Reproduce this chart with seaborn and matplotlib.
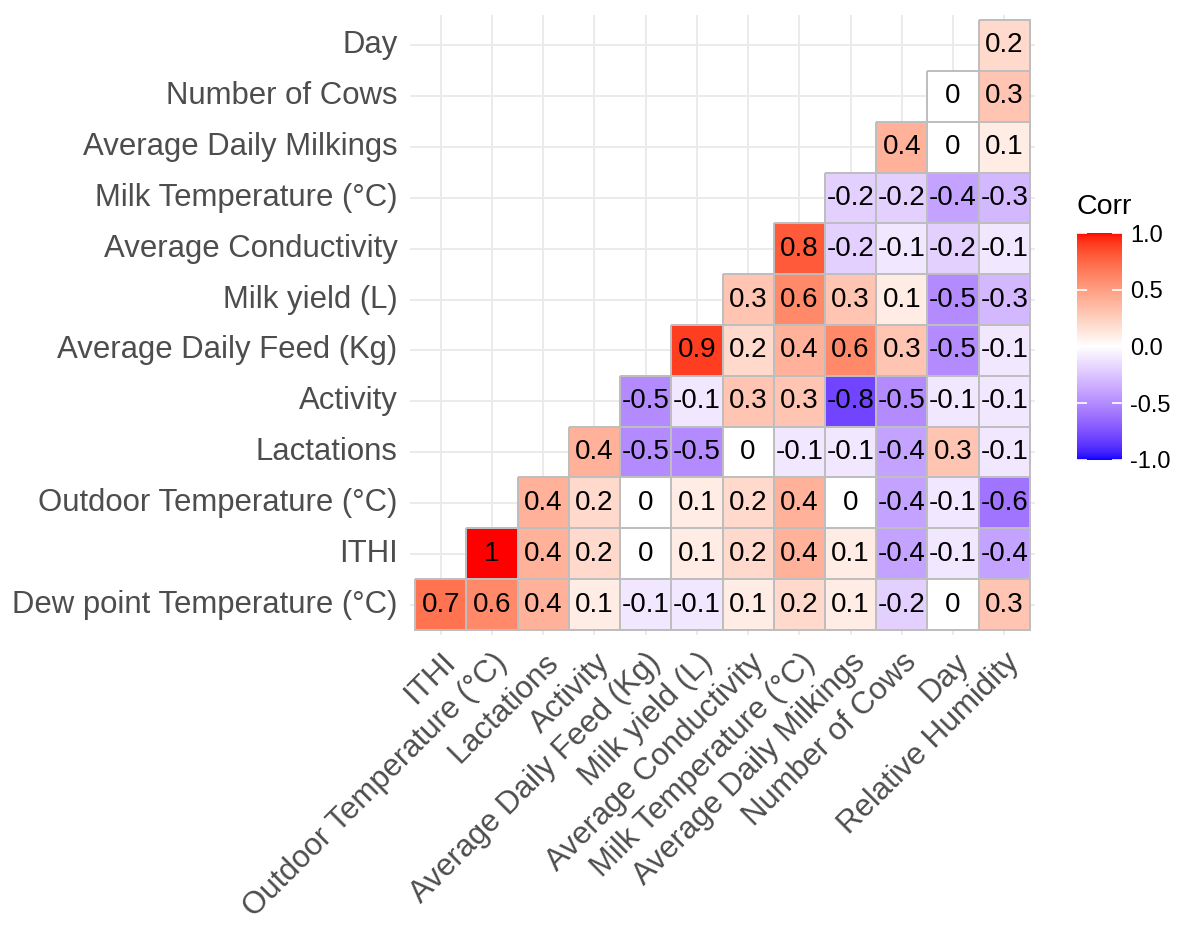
import numpy as np
import pandas as pd
import matplotlib
matplotlib.use("Agg")
import matplotlib.pyplot as plt
import seaborn as sns
from matplotlib.colors import ListedColormap, to_rgba

# ---------------- data ----------------
col_labels = ["ITHI", "Outdoor Temperature (°C)", "Lactations", "Activity",
              "Average Daily Feed (Kg)", "Milk yield (L)", "Average Conductivity",
              "Milk Temperature (°C)", "Average Daily Milkings", "Number of Cows",
              "Day", "Relative Humidity"]
# rows from bottom to top
row_labels = ["Dew point Temperature (°C)", "ITHI", "Outdoor Temperature (°C)",
              "Lactations", "Activity", "Average Daily Feed (Kg)", "Milk yield (L)",
              "Average Conductivity", "Milk Temperature (°C)", "Average Daily Milkings",
              "Number of Cows", "Day"]

# each row's values, starting at the column with the same index as the row
r_dew = [0.7, 0.6, 0.4, 0.1, -0.1, -0.1, 0.1, 0.2, 0.1, -0.2, 0, 0.3]
r_ithi = [1, 0.4, 0.2, 0, 0.1, 0.2, 0.4, 0.1, -0.4, -0.1, -0.4]
r_outdoor = [0.4, 0.2, 0, 0.1, 0.2, 0.4, 0, -0.4, -0.1, -0.6]
r_lact = [0.4, -0.5, -0.5, 0, -0.1, -0.1, -0.4, 0.3, -0.1]
r_activity = [-0.5, -0.1, 0.3, 0.3, -0.8, -0.5, -0.1, -0.1]
r_feed = [0.9, 0.2, 0.4, 0.6, 0.3, -0.5, -0.1]
r_milk = [0.3, 0.6, 0.3, 0.1, -0.5, -0.3]
r_cond = [0.8, -0.2, -0.1, -0.2, -0.1]
r_mtemp = [-0.2, -0.2, -0.4, -0.3]
r_milkings = [0.4, 0, 0.1]
r_cows = [0, 0.3]
r_day = [0.2]
rows_vals = [r_dew, r_ithi, r_outdoor, r_lact, r_activity, r_feed, r_milk,
             r_cond, r_mtemp, r_milkings, r_cows, r_day]

n = len(col_labels)
mat = np.full((n, n), np.nan)
for r, vals in enumerate(rows_vals):
    for k, v in enumerate(vals):
        mat[r, r + k] = v
# heatmap draws rows top-to-bottom -> reverse
df = pd.DataFrame(mat[::-1], index=row_labels[::-1], columns=col_labels)
mask = df.isna()

# ---------------- colormap (Lab interpolation like ggplot2) ----------------
def srgb_to_lab(rgb):
    rgb = np.asarray(rgb, float)
    lin = np.where(rgb <= 0.04045, rgb / 12.92, ((rgb + 0.055) / 1.055) ** 2.4)
    M = np.array([[0.4124, 0.3576, 0.1805], [0.2126, 0.7152, 0.0722], [0.0193, 0.1192, 0.9505]])
    xyz = M @ lin
    wp = np.array([0.95047, 1.0, 1.08883])
    t = xyz / wp
    f = np.where(t > (6 / 29) ** 3, np.cbrt(t), t / (3 * (6 / 29) ** 2) + 4 / 29)
    return np.array([116 * f[1] - 16, 500 * (f[0] - f[1]), 200 * (f[1] - f[2])])

def lab_to_srgb(lab):
    L, a, b = lab
    fy = (L + 16) / 116
    fx = fy + a / 500
    fz = fy - b / 200
    f = np.array([fx, fy, fz])
    t = np.where(f > 6 / 29, f ** 3, 3 * (6 / 29) ** 2 * (f - 4 / 29))
    xyz = t * np.array([0.95047, 1.0, 1.08883])
    Minv = np.array([[3.2406, -1.5372, -0.4986], [-0.9689, 1.8758, 0.0415], [0.0557, -0.2040, 1.0570]])
    lin = Minv @ xyz
    lin = np.clip(lin, 0, 1)
    rgb = np.where(lin <= 0.0031308, 12.92 * lin, 1.055 * lin ** (1 / 2.4) - 0.055)
    return np.clip(rgb, 0, 1)

lab_lo = srgb_to_lab([0, 0, 1])
lab_mid = srgb_to_lab([1, 1, 1])
lab_hi = srgb_to_lab([1, 0, 0])
cols = []
for v in np.linspace(-1, 1, 511):
    if v < 0:
        t = v + 1
        lab = lab_lo + (lab_mid - lab_lo) * t
    else:
        lab = lab_mid + (lab_hi - lab_mid) * v
    cols.append(lab_to_srgb(lab))
cmap = ListedColormap(cols)

# ---------------- figure ----------------
plt.rcParams["font.family"] = ["Liberation Sans", "DejaVu Sans"]
W, H = 1185, 927
fig = plt.figure(figsize=(W / 100, H / 100), dpi=100)

# panel in pixels
px_l, px_r, px_t, px_b = 410, 1035, 15, 635
ax = fig.add_axes([px_l / W, 1 - px_b / H, (px_r - px_l) / W, (px_b - px_t) / H])
cax = fig.add_axes([1077 / W, 1 - 460 / H, 45 / W, 227 / H])

sns.heatmap(df, mask=mask, cmap=cmap, vmin=-1, vmax=1, annot=True, fmt="g",
            annot_kws={"color": "black", "fontsize": 20},
            linewidths=1.2, linecolor="#BEBEBE", ax=ax, cbar_ax=cax, square=False)

# no outlines for the empty (masked) cells
mesh = ax.collections[0]
edge_on = np.array(to_rgba("#BEBEBE"))
edge_off = np.array([0, 0, 0, 0.0])
ec = np.array([edge_off if m else edge_on for m in mask.values.ravel()])
mesh.set_edgecolor(ec)

ax.set_xlim(-0.1, n + 0.1)
ax.set_ylim(n + 0.1, -0.1)
ax.grid(True, color="#EBEBEB", linewidth=1.4)
ax.set_axisbelow(True)
for s in ax.spines.values():
    s.set_visible(False)
ax.set_xlabel("")
ax.set_ylabel("")
ax.set_yticks(np.arange(n) + 0.5)
ax.set_yticklabels(row_labels[::-1], rotation=0, fontsize=22.4, color="#4D4D4D")
ax.set_xticks(np.arange(n) + 0.5)
ax.set_xticklabels(col_labels, rotation=45, ha="right", va="top",
                   rotation_mode="anchor", fontsize=22.4, color="#4D4D4D")
ax.tick_params(axis="both", length=0)
ax.tick_params(axis="y", pad=9)
ax.tick_params(axis="x", pad=9)

cbar = ax.collections[0].colorbar
cbar.outline.set_visible(False)
cbar.set_ticks([-1, -0.5, 0, 0.5, 1])
cbar.set_ticklabels(["-1.0", "-0.5", "0.0", "0.5", "1.0"])
cax.tick_params(axis="y", direction="in", colors="white", length=7, width=1.2,
                left=True, right=True, labelleft=False, labelright=True,
                labelsize=17, labelcolor="black", pad=6)
fig.text(1077 / W, 1 - 207 / H, "Corr", fontsize=20.5, ha="left", va="center")

fig.savefig("out.png", dpi=100)
